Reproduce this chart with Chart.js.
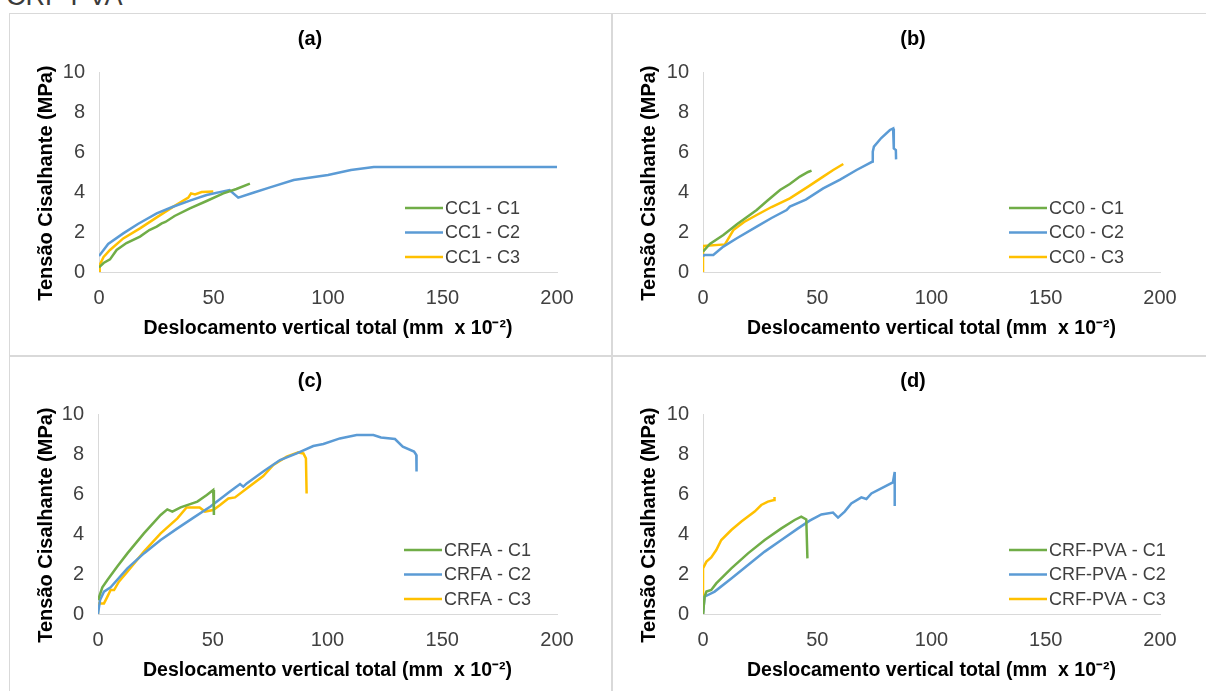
<!DOCTYPE html>
<html lang="pt">
<head>
<meta charset="utf-8">
<title>Tensão cisalhante x deslocamento</title>
<script src="https://cdn.jsdelivr.net/npm/chart.js@4.4.1/dist/chart.umd.min.js"></script>
<style>
  html, body { margin: 0; padding: 0; background: #fff; overflow: hidden; }
  body { width: 1206px; height: 691px; position: relative; font-family: "Liberation Sans", Arial, sans-serif; }
  .topo { position: absolute; left: 6px; top: -17px; font-size: 27px; line-height: 27px; color: #3b3b3b; white-space: nowrap; }
  .quadro { position: absolute; box-sizing: border-box; border: 1px solid #d9d9d9; }
  canvas { position: absolute; }
</style>
</head>
<body>
<div class="topo">CRF-PVA</div>
<div class="quadro" style="left:9px; top:13px; width:604px; height:344px;"></div>
<div class="quadro" style="left:611px; top:13px; width:620px; height:344px;"></div>
<div class="quadro" style="left:9px; top:355px; width:604px; height:360px;"></div>
<div class="quadro" style="left:611px; top:355px; width:620px; height:360px;"></div>
<canvas id="graficoA" width="600" height="340" style="left:10px; top:14px;"></canvas>
<canvas id="graficoB" width="600" height="340" style="left:613px; top:14px;"></canvas>
<canvas id="graficoC" width="600" height="340" style="left:10px; top:356px;"></canvas>
<canvas id="graficoD" width="600" height="340" style="left:613px; top:356px;"></canvas>
<script>
// Escalas dos eixos
const ticksX = [0, 50, 100, 150, 200];
const ticksY = [0, 2, 4, 6, 8, 10];

// (a) CC1
const cc1c1X = [0, 2, 4.8, 7.7, 12, 17.9, 22, 25.2, 27.4, 29, 33, 39.7, 47, 54.3, 60, 65.9];
const cc1c1Y = [0.23, 0.45, 0.63, 1.1, 1.45, 1.77, 2.1, 2.27, 2.43, 2.5, 2.8, 3.18, 3.55, 3.93, 4.15, 4.42];
const cc1c2X = [0, 4, 10.6, 17, 25.2, 32, 39.7, 47, 55.7, 57, 60.8, 67, 74.7, 85, 100, 110, 120, 200];
const cc1c2Y = [0.8, 1.4, 1.93, 2.4, 2.93, 3.25, 3.57, 3.85, 4.07, 4.1, 3.72, 3.95, 4.23, 4.6, 4.85, 5.1, 5.25, 5.25];
const cc1c3X = [0, 0.3, 2, 4.8, 10.6, 17.9, 25.2, 32.5, 39, 40.2, 41.9, 44.8, 49.9];
const cc1c3Y = [0, 0.35, 0.75, 1.1, 1.68, 2.18, 2.73, 3.27, 3.72, 3.93, 3.88, 4.0, 4.02];

// (b) CC0
const cc0c1X = [0, 3, 8.9, 15, 23.5, 28, 33.7, 38, 42.4, 46, 47.5];
const cc0c1Y = [1.02, 1.4, 1.85, 2.4, 3.1, 3.55, 4.1, 4.4, 4.77, 5.0, 5.07];
const cc0c2X = [0, 0.5, 4.5, 8.9, 15, 23.5, 30, 36.6, 38, 45, 52.6, 60, 67.2, 74.2, 74.3, 74.8, 78, 81.8, 83.2, 83.5, 84.4, 84.5];
const cc0c2Y = [0.77, 0.85, 0.85, 1.27, 1.7, 2.27, 2.7, 3.1, 3.27, 3.62, 4.18, 4.62, 5.1, 5.52, 6.02, 6.27, 6.7, 7.1, 7.18, 6.18, 6.1, 5.63];
const cc0c3X = [0, 0, 9.6, 13.3, 18, 23.5, 30, 38, 46, 52.6, 57, 61.4];
const cc0c3Y = [0, 1.3, 1.38, 2.1, 2.5, 2.85, 3.25, 3.68, 4.27, 4.77, 5.1, 5.4];

// (c) CRFA
const crfaC1X = [0, 1.9, 4.1, 8.4, 12.8, 20, 27.3, 30.2, 32.4, 36, 43.3, 47.4, 50.2, 50.5];
const crfaC1Y = [0.7, 1.33, 1.7, 2.37, 3.03, 4.03, 4.95, 5.23, 5.12, 5.33, 5.62, 5.95, 6.2, 4.95];
const crfaC2X = [0, 0.9, 2.6, 5.5, 12.8, 20, 27.3, 34.6, 41.8, 49, 57.5, 61.9, 63.3, 64.8, 72, 79.3, 86.6, 93.8, 98.2, 105.4, 112.7, 120, 123.3, 129.4, 132.8, 137.7, 138.7, 138.8];
const crfaC2Y = [0, 0.7, 1.12, 1.33, 2.28, 3.03, 3.7, 4.28, 4.83, 5.37, 6.12, 6.5, 6.37, 6.53, 7.12, 7.7, 8.03, 8.4, 8.5, 8.78, 8.95, 8.95, 8.83, 8.75, 8.37, 8.12, 7.95, 7.12];
const crfaC3X = [0, 0, 2.6, 4.1, 5.5, 7, 9.1, 12.8, 20, 27.3, 34.6, 38.6, 44.3, 46.6, 50.2, 53.2, 56.8, 59.7, 64.8, 72, 76.4, 82.2, 87.3, 89.5, 90.6, 90.9];
const crfaC3Y = [0, 0.53, 0.53, 0.87, 1.2, 1.2, 1.62, 2.12, 3.12, 4.03, 4.78, 5.33, 5.33, 5.12, 5.2, 5.45, 5.78, 5.83, 6.28, 6.9, 7.45, 7.87, 8.08, 8.03, 7.78, 6.03];

// (d) CRF-PVA
const pvaC1X = [0, 0.7, 1.5, 3.6, 5.8, 12.4, 19.7, 27, 34.3, 40.1, 43, 45.2, 45.7];
const pvaC1Y = [0, 0.87, 1.12, 1.2, 1.53, 2.28, 3.03, 3.7, 4.28, 4.7, 4.87, 4.73, 2.78];
const pvaC2X = [0, 0.7, 2.2, 5.1, 12.4, 19.7, 27, 34.3, 41.6, 46.7, 51.8, 56.9, 59.1, 62, 64.9, 69.3, 71.5, 73.7, 78, 83.1, 83.9, 83.9];
const pvaC2Y = [0, 0.87, 0.95, 1.12, 1.78, 2.45, 3.12, 3.7, 4.28, 4.67, 4.98, 5.07, 4.82, 5.12, 5.53, 5.83, 5.75, 6.03, 6.28, 6.58, 7.1, 5.4];
const pvaC3X = [0, 0, 1.5, 3.6, 5.8, 8, 12.4, 16.8, 19.7, 22.6, 25.5, 28.4, 31.1, 31.3];
const pvaC3Y = [0, 2.28, 2.62, 2.83, 3.2, 3.7, 4.2, 4.62, 4.87, 5.12, 5.45, 5.62, 5.7, 5.85];

// Cores das séries (verde, azul, amarelo)
const cores = ["#70AD47", "#5B9BD5", "#FFC000"];

Chart.defaults.font.family = "'Liberation Sans', Arial, sans-serif";

// Junta x e y em pontos
function pontos(xs, ys) {
  return xs.map((x, i) => ({ x: x, y: ys[i] }));
}

// Legenda desenhada dentro da área do gráfico
const legendaInterna = {
  id: "legendaInterna",
  afterDraw(chart) {
    const { ctx, chartArea } = chart;
    ctx.save();
    ctx.font = "18px 'Liberation Sans', Arial, sans-serif";
    ctx.textBaseline = "middle";
    chart.data.datasets.forEach((ds, i) => {
      const x = chartArea.left + 306;
      const y = chartArea.top + 136 + i * 24.5;
      ctx.strokeStyle = ds.borderColor;
      ctx.lineWidth = 2.5;
      ctx.beginPath();
      ctx.moveTo(x, y);
      ctx.lineTo(x + 38, y);
      ctx.stroke();
      ctx.fillStyle = "#404040";
      ctx.fillText(ds.label, x + 40, y + 1);
    });
    ctx.restore();
  }
};

function criarGrafico(id, titulo, nomes, series, larguraY) {
  const ctx = document.getElementById(id).getContext("2d");
  return new Chart(ctx, {
    type: "scatter",
    data: {
      datasets: series.map((s, i) => ({
        label: nomes[i],
        data: s,
        showLine: true,
        borderColor: cores[i],
        backgroundColor: cores[i],
        borderWidth: 2.5,
        pointRadius: 0,
        tension: 0
      }))
    },
    options: {
      responsive: false,
      animation: false,
      devicePixelRatio: 1,
      layout: { padding: 0 },
      plugins: {
        legend: { display: false },
        tooltip: { enabled: false },
        title: {
          display: true,
          text: titulo,
          color: "#000",
          font: { size: 20, weight: "bold" },
          padding: { top: 13, bottom: 21 }
        }
      },
      scales: {
        x: {
          type: "linear",
          min: 0,
          max: 200,
          afterBuildTicks: (axis) => { axis.ticks = ticksX.map(v => ({ value: v })); },
          afterFit: (axis) => { axis.height = 82; },
          grid: { display: false, drawTicks: false },
          border: { display: true, color: "#d9d9d9", width: 1 },
          ticks: { color: "#404040", font: { size: 20 }, padding: 14, maxRotation: 0 },
          title: {
            display: true,
            text: "Deslocamento vertical total (mm  x 10⁻²)",
            color: "#000",
            font: { size: 19.5, weight: "bold" },
            padding: { top: 0, bottom: 14 }
          }
        },
        y: {
          type: "linear",
          min: 0,
          max: 10,
          afterBuildTicks: (axis) => { axis.ticks = ticksY.map(v => ({ value: v })); },
          afterFit: (axis) => { axis.width = larguraY; },
          grid: { display: false, drawTicks: false },
          border: { display: true, color: "#d9d9d9", width: 1 },
          ticks: { color: "#404040", font: { size: 20 }, padding: 14 },
          title: {
            display: true,
            // espaços no fim baixam o título como no original
            text: "Tensão Cisalhante (MPa)\u00a0\u00a0\u00a0\u00a0",
            color: "#000",
            font: { size: 20, weight: "bold" },
            padding: { top: 24, bottom: 0 }
          }
        },
        // eixo vazio à direita, só para reservar espaço
        direita: {
          type: "linear",
          position: "right",
          afterFit: (axis) => { axis.width = 53; },
          grid: { display: false, drawTicks: false },
          border: { display: false },
          ticks: { display: false }
        }
      }
    },
    plugins: [legendaInterna]
  });
}

criarGrafico("graficoA", "(a)", ["CC1 - C1", "CC1 - C2", "CC1 - C3"],
  [pontos(cc1c1X, cc1c1Y), pontos(cc1c2X, cc1c2Y), pontos(cc1c3X, cc1c3Y)], 89);
criarGrafico("graficoB", "(b)", ["CC0 - C1", "CC0 - C2", "CC0 - C3"],
  [pontos(cc0c1X, cc0c1Y), pontos(cc0c2X, cc0c2Y), pontos(cc0c3X, cc0c3Y)], 90);
criarGrafico("graficoC", "(c)", ["CRFA - C1", "CRFA - C2", "CRFA - C3"],
  [pontos(crfaC1X, crfaC1Y), pontos(crfaC2X, crfaC2Y), pontos(crfaC3X, crfaC3Y)], 88);
criarGrafico("graficoD", "(d)", ["CRF-PVA - C1", "CRF-PVA - C2", "CRF-PVA - C3"],
  [pontos(pvaC1X, pvaC1Y), pontos(pvaC2X, pvaC2Y), pontos(pvaC3X, pvaC3Y)], 90);
</script>
</body>
</html>
